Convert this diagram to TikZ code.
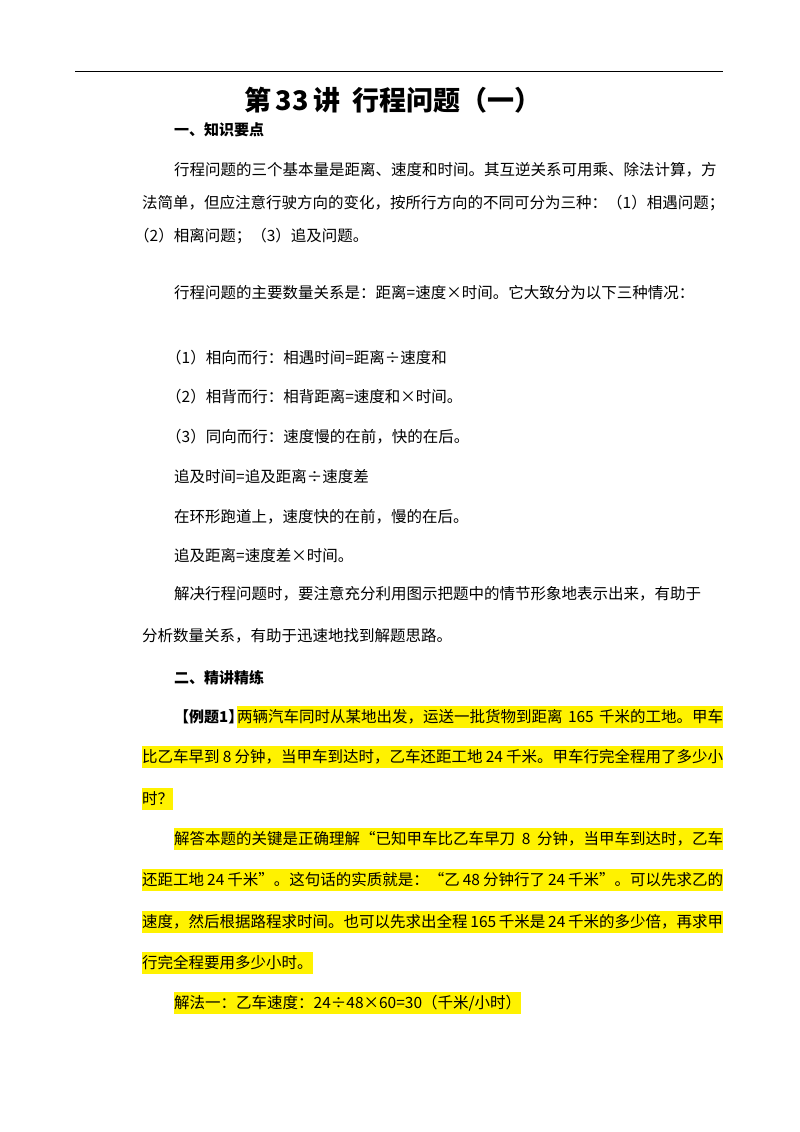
\documentclass[tikz,border=0pt]{standalone}
\usepackage{fontspec}
\setmainfont{Noto Sans CJK SC}
\XeTeXlinebreaklocale "zh"
\XeTeXlinebreakskip=0pt plus 5pt
\begin{document}
\begin{tikzpicture}[x=1pt,y=-1pt,
  t/.style={anchor=west,inner sep=0pt,font=\fontsize{15.5}{18}\selectfont},
  hl/.style={t,fill=yellow,minimum height=22pt},
  h/.style={t,font=\fontsize{15}{18}\bfseries\selectfont}]
\useasboundingbox (0,0) rectangle (800,1132);
\draw[line width=1pt] (75,72) coordinate (l1) -- (723,72) coordinate (l2);
\node[anchor=center,inner sep=0pt,font=\fontsize{27}{32}\bfseries\selectfont] (title) at (393,100) {第\,33\,讲\ \ 行程问题（一）};
\node[h] (s1) at (174,130) {一、知识要点};
\node[t] (p1) at (174,170) {\hbox to 549pt{行程问题的三个基本量是距离、速度和时间。其互逆关系可用乘、除法计算，方}};
\node[t] (p2) at (142,203) {\hbox to 581pt{法简单，但应注意行驶方向的变化，按所行方向的不同可分为三种：（1）相遇问题；}};
\node[t] (p3) at (134,236) {（2）相离问题；（3）追及问题。};
\node[t] (p4) at (174,293) {行程问题的主要数量关系是：距离=速度×时间。它大致分为以下三种情况：};
\node[t] (p5) at (166,358) {（1）相向而行：相遇时间=距离÷速度和};
\node[t] (p6) at (166,397) {（2）相背而行：相背距离=速度和×时间。};
\node[t] (p7) at (166,437) {（3）同向而行：速度慢的在前，快的在后。};
\node[t] (p8) at (174,477) {追及时间=追及距离÷速度差};
\node[t] (p9) at (174,517) {在环形跑道上，速度快的在前，慢的在后。};
\node[t] (p10) at (174,556) {追及距离=速度差×时间。};
\node[t] (p11) at (174,594) {\hbox to 549pt{解决行程问题时，要注意充分利用图示把题中的情节形象地表示出来，有助于}};
\node[t] (p12) at (142,636) {分析数量关系，有助于迅速地找到解题思路。};
\node[h] (s2) at (174,678) {二、精讲精练};
\node[h] (e0) at (174,717) {【例题1】};
\node[hl] (e1) at (237,717) {\hbox to 486pt{两辆汽车同时从某地出发，运送一批货物到距离 165 千米的工地。甲车}};
\node[hl] (e2) at (142,757) {\hbox to 581pt{比乙车早到 8 分钟，当甲车到达时，乙车还距工地 24 千米。甲车行完全程用了多少小}};
\node[hl] (e3) at (142,799) {时？};
\node[hl] (a1) at (174,839) {\hbox to 549pt{解答本题的关键是正确理解“已知甲车比乙车早刀 8 分钟，当甲车到达时，乙车}};
\node[hl] (a2) at (142,880) {\hbox to 581pt{还距工地 24 千米”。这句话的实质就是：“乙 48 分钟行了 24 千米”。可以先求乙的}};
\node[hl] (a3) at (142,922) {\hbox to 581pt{速度，然后根据路程求时间。也可以先求出全程 165 千米是 24 千米的多少倍，再求甲}};
\node[hl] (a4) at (142,963) {行完全程要用多少小时。};
\node[hl] (a5) at (174,1003) {解法一：乙车速度：24÷48×60=30（千米/小时）};
\end{tikzpicture}
\end{document}
